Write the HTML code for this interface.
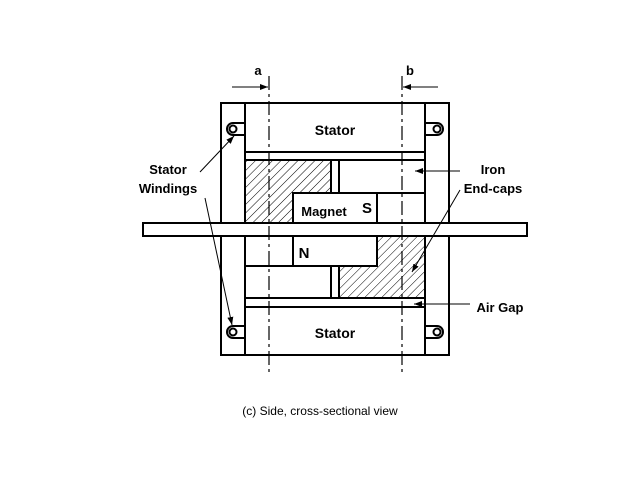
<!DOCTYPE html>
<html><head><style>body{margin:0;background:#fff}svg{display:block}</style></head><body>
<svg width="640" height="480" xmlns="http://www.w3.org/2000/svg" font-family="Liberation Sans, sans-serif" font-weight="bold">
<defs>
<pattern id="h" patternUnits="userSpaceOnUse" width="6" height="6" patternTransform="rotate(45)">
<line x1="0" y1="0" x2="0" y2="6" stroke="#000" stroke-width="1"/>
</pattern>
<marker id="ar" markerWidth="8" markerHeight="6" refX="8" refY="3" orient="auto" markerUnits="userSpaceOnUse">
<path d="M0,0 L8,3 L0,6 z" fill="#000"/></marker>
</defs>
<g fill="none" stroke="#000" stroke-width="2">
<rect x="221" y="103" width="228" height="252"/>
<line x1="245" y1="103" x2="245" y2="355"/>
<line x1="425" y1="103" x2="425" y2="355"/>
<line x1="245" y1="152" x2="425" y2="152"/>
<line x1="245" y1="160" x2="425" y2="160"/>
<line x1="245" y1="298" x2="425" y2="298"/>
<line x1="245" y1="307" x2="425" y2="307"/>
<path d="M245,160 H331 V193 H293 V223 H245 Z" fill="url(#h)"/>
<rect x="331" y="160" width="8" height="33"/>
<rect x="339" y="160" width="86" height="33"/>
<rect x="293" y="193" width="84" height="30"/>
<rect x="377" y="193" width="48" height="30"/>
<rect x="245" y="236" width="48" height="30"/>
<rect x="293" y="236" width="84" height="30"/>
<rect x="245" y="266" width="86" height="32"/>
<rect x="331" y="266" width="8" height="32"/>
<path d="M377,236 H425 V298 H339 V266 H377 Z" fill="url(#h)"/>
<rect x="143" y="223" width="384" height="13" fill="#fff"/>
</g>
<g stroke="#000" stroke-width="1.2" stroke-dasharray="14,4,3,4">
<line x1="269" y1="76" x2="269" y2="372"/>
<line x1="402" y1="76" x2="402" y2="372"/>
</g>
<g fill="#fff" stroke="#000" stroke-width="2">
<path d="M233,123 H245 V135 H233 A6,6 0 0 1 233,123 Z"/>
<circle cx="233" cy="129" r="3.5"/>
<path d="M437,123 H425 V135 H437 A6,6 0 0 0 437,123 Z"/>
<circle cx="437" cy="129" r="3.5"/>
<path d="M233,326 H245 V338 H233 A6,6 0 0 1 233,326 Z"/>
<circle cx="233" cy="332" r="3.5"/>
<path d="M437,326 H425 V338 H437 A6,6 0 0 0 437,326 Z"/>
<circle cx="437" cy="332" r="3.5"/>
</g>
<g stroke="#000" stroke-width="1" marker-end="url(#ar)">
<line x1="232" y1="87" x2="268" y2="87"/>
<line x1="438" y1="87" x2="403" y2="87"/>
<line x1="200" y1="172" x2="234" y2="136"/>
<line x1="205" y1="198" x2="232" y2="325"/>
<line x1="460" y1="171" x2="415" y2="171"/>
<line x1="460" y1="190" x2="412" y2="272"/>
<line x1="470" y1="304" x2="414" y2="304"/>
</g>
<g font-size="14" text-anchor="middle" fill="#000">
<text x="258" y="75" font-size="13">a</text>
<text x="410" y="75" font-size="13">b</text>
<text x="335" y="135">Stator</text>
<text x="335" y="338">Stator</text>
<text x="324" y="216" font-size="13">Magnet</text>
<text x="367" y="213" font-size="15">S</text>
<text x="304" y="258" font-size="15">N</text>
<text x="168" y="174" font-size="13">Stator</text>
<text x="168" y="193" font-size="13">Windings</text>
<text x="493" y="174" font-size="13">Iron</text>
<text x="493" y="193" font-size="13">End-caps</text>
<text x="500" y="312" font-size="13">Air Gap</text>
<text x="320" y="415" font-size="12" font-weight="normal">(c) Side, cross-sectional view</text>
</g>
</svg>
</body></html>
